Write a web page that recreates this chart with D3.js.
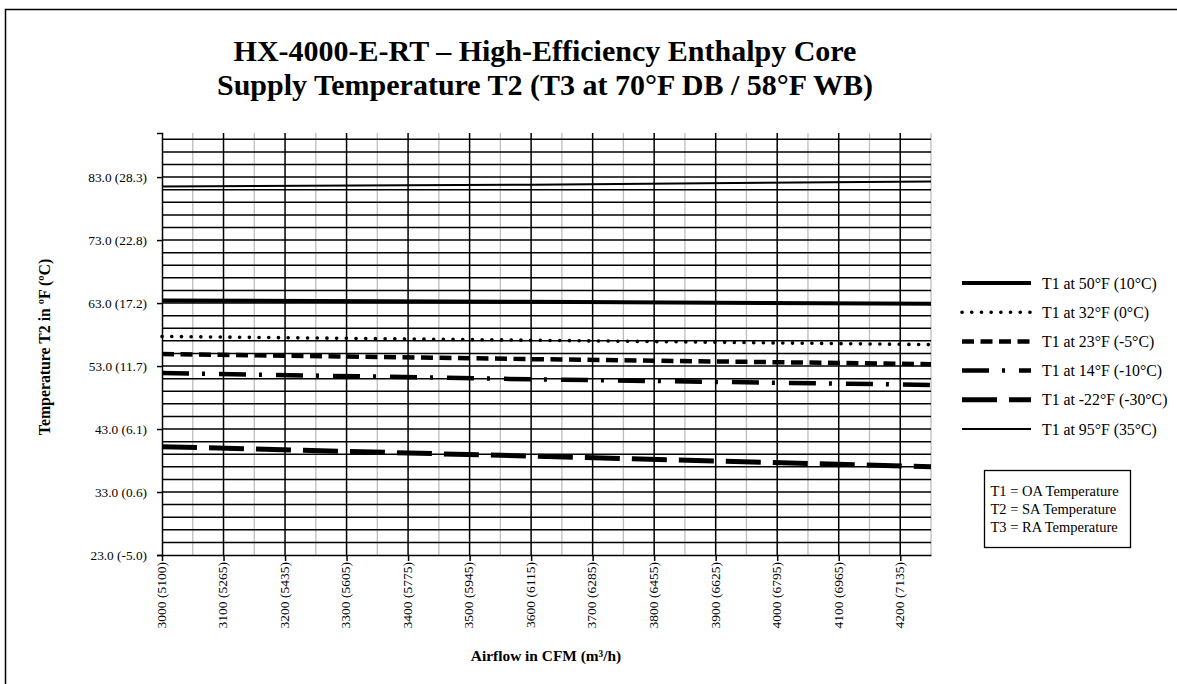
<!DOCTYPE html>
<html>
<head>
<meta charset="utf-8">
<script src="https://cdn.jsdelivr.net/npm/d3@7"></script>
<style>
  body { margin: 0; background: #fff; }
  svg text { font-family: "Liberation Serif", "Times New Roman", serif; fill: #000; }
</style>
</head>
<body>
<div id="chart"></div>
<script>
// airflow points the curves were read at (CFM)
var cfm = [3000, 3600, 4250];

// supply temperature T2 (°F) for each outdoor temperature
var t1At50 = [63.4, 63.2, 62.9];
var t1At32 = [57.7, 57.1, 56.4];
var t1At23 = [54.9, 54.1, 53.3];
var t1At14 = [51.9, 50.9, 50.0];
var t1AtMinus22 = [40.2, 38.7, 37.0];
var t1At95 = [81.5, 81.8, 82.3];

var seriesNames = ['T1 at 50°F (10°C)', 'T1 at 32°F (0°C)', 'T1 at 23°F (-5°C)',
   'T1 at 14°F (-10°C)', 'T1 at -22°F (-30°C)', 'T1 at 95°F (35°C)'];
var seriesValues = [t1At50, t1At32, t1At23, t1At14, t1AtMinus22, t1At95];

var xTicks = [3000, 3100, 3200, 3300, 3400, 3500, 3600, 3700, 3800, 3900, 4000, 4100, 4200];
var xTickLabels = ['3000 (5100)', '3100 (5265)', '3200 (5435)', '3300 (5605)', '3400 (5775)',
   '3500 (5945)', '3600 (6115)', '3700 (6285)', '3800 (6455)', '3900 (6625)', '4000 (6795)',
   '4100 (6965)', '4200 (7135)'];
var yTicks = [23, 33, 43, 53, 63, 73, 83];
var yTickLabels = ['23.0 (-5.0)', '33.0 (0.6)', '43.0 (6.1)', '53.0 (11.7)', '63.0 (17.2)',
   '73.0 (22.8)', '83.0 (28.3)'];
var noteLines = ['T1 = OA Temperature', 'T2 = SA Temperature', 'T3 = RA Temperature'];

var width = 1177, height = 684;
var plot = {left: 162, right: 931, top: 133, bottom: 555};

// line look of each series, same order as seriesNames
var lineStyles = [
   {w: 4, dash: null, cap: 'butt'},
   {w: 3.6, dash: '0.1 9.6', cap: 'round'},
   {w: 4.5, dash: '12 6.5', cap: 'butt'},
   {w: 4.5, dash: '27 13 3 14', cap: 'butt'},
   {w: 5, dash: '35 12', cap: 'butt'},
   {w: 2, dash: null, cap: 'butt'}
];

var svg = d3.select('#chart').append('svg')
   .attr('width', width)
   .attr('height', height);

// outer frame
svg.append('rect')
   .attr('x', 5.5).attr('y', 9.5)
   .attr('width', width + 50).attr('height', height + 50)
   .attr('fill', 'none').attr('stroke', '#000').attr('stroke-width', 1.5);

var x = d3.scaleLinear().domain([3000, 4250]).range([plot.left, plot.right]);
var y = d3.scaleLinear().domain([23, 90]).range([plot.bottom, plot.top]);

// minor vertical gridlines (grey)
svg.append('g').selectAll('line')
   .data(d3.range(3050, 4251, 100))
   .enter().append('line')
   .attr('x1', function (d) { return x(d) }).attr('x2', function (d) { return x(d) })
   .attr('y1', plot.top).attr('y2', plot.bottom)
   .attr('stroke', '#bdbdbd').attr('stroke-width', 1.3);

// major vertical gridlines
svg.append('g').selectAll('line')
   .data(xTicks.slice(1))
   .enter().append('line')
   .attr('x1', function (d) { return x(d) }).attr('x2', function (d) { return x(d) })
   .attr('y1', plot.top).attr('y2', plot.bottom)
   .attr('stroke', '#000').attr('stroke-width', 1.5);

// horizontal gridlines every 2 degrees
svg.append('g').selectAll('line')
   .data(d3.range(25, 90, 2))
   .enter().append('line')
   .attr('x1', plot.left).attr('x2', plot.right)
   .attr('y1', function (d) { return y(d) }).attr('y2', function (d) { return y(d) })
   .attr('stroke', '#000').attr('stroke-width', 1.5);

// y axis
var yAxis = d3.axisLeft(y).tickValues(yTicks).tickSize(5).tickPadding(10)
   .tickFormat(function (d, i) { return yTickLabels[i] });
var gy = svg.append('g').attr('transform', 'translate(' + plot.left + ',0)').call(yAxis);
gy.select('.domain').attr('stroke-width', 1.5);
gy.selectAll('.tick line').attr('stroke-width', 1.5);
gy.selectAll('text').style('font-size', '13.3px').attr('font-family', null);

// x axis, labels rotated
var xAxis = d3.axisBottom(x).tickValues(xTicks).tickSize(6).tickSizeOuter(0)
   .tickFormat(function (d, i) { return xTickLabels[i] });
var gx = svg.append('g').attr('transform', 'translate(0,' + plot.bottom + ')').call(xAxis);
gx.select('.domain').attr('stroke-width', 1.5);
gx.selectAll('.tick line').attr('stroke-width', 1.5);
gx.selectAll('text')
   .style('font-size', '13.5px').attr('font-family', null)
   .attr('text-anchor', 'end')
   .attr('transform', 'rotate(-90)')
   .attr('x', -7).attr('y', -1).attr('dy', '0.32em');

// series lines
var line = d3.line()
   .x(function (d) { return x(d[0]) })
   .y(function (d) { return y(d[1]) });

seriesValues.forEach(function (vals, i) {
   var st = lineStyles[i];
   svg.append('path')
      .datum(cfm.map(function (c, j) { return [c, vals[j]] }))
      .attr('d', line)
      .attr('fill', 'none')
      .attr('stroke', '#000')
      .attr('stroke-width', st.w)
      .attr('stroke-linecap', st.cap)
      .attr('stroke-dasharray', st.dash);
});

// legend
var legend = svg.append('g').attr('transform', 'translate(961,283)');
seriesNames.forEach(function (name, i) {
   var st = lineStyles[i];
   var row = legend.append('g').attr('transform', 'translate(0,' + (i * 29.2) + ')');
   row.append('line')
      .attr('x1', 1).attr('x2', 70).attr('y1', 0).attr('y2', 0)
      .attr('stroke', '#000')
      .attr('stroke-width', st.w)
      .attr('stroke-linecap', st.cap)
      .attr('stroke-dasharray', st.dash);
   row.append('text')
      .attr('x', 81).attr('y', 0).attr('dy', '0.35em')
      .style('font-size', '15.8px')
      .text(name);
});

// note box
svg.append('rect')
   .attr('x', 984.5).attr('y', 470.5).attr('width', 146).attr('height', 77)
   .attr('fill', 'none').attr('stroke', '#000').attr('stroke-width', 1.3);
svg.append('g').selectAll('text')
   .data(noteLines)
   .enter().append('text')
   .attr('x', 990.5)
   .attr('y', function (d, i) { return 496 + i * 18 })
   .style('font-size', '14.5px')
   .text(function (d) { return d });

// titles
svg.append('text')
   .attr('x', 545).attr('y', 61)
   .attr('text-anchor', 'middle')
   .style('font-size', '30px').style('font-weight', 'bold')
   .text('HX-4000-E-RT – High-Efficiency Enthalpy Core');
svg.append('text')
   .attr('x', 545).attr('y', 95)
   .attr('text-anchor', 'middle')
   .style('font-size', '30px').style('font-weight', 'bold')
   .text('Supply Temperature T2 (T3 at 70°F DB / 58°F WB)');

svg.append('text')
   .attr('transform', 'translate(44,' + ((plot.top + plot.bottom) / 2 + 3) + ') rotate(-90)')
   .attr('text-anchor', 'middle').attr('dy', '0.35em')
   .style('font-size', '15.8px').style('font-weight', 'bold')
   .text('Temperature T2 in ºF (ºC)');

svg.append('text')
   .attr('x', 546).attr('y', 661)
   .attr('text-anchor', 'middle')
   .style('font-size', '15.4px').style('font-weight', 'bold')
   .text('Airflow in CFM (m³/h)');
</script>
</body>
</html>
